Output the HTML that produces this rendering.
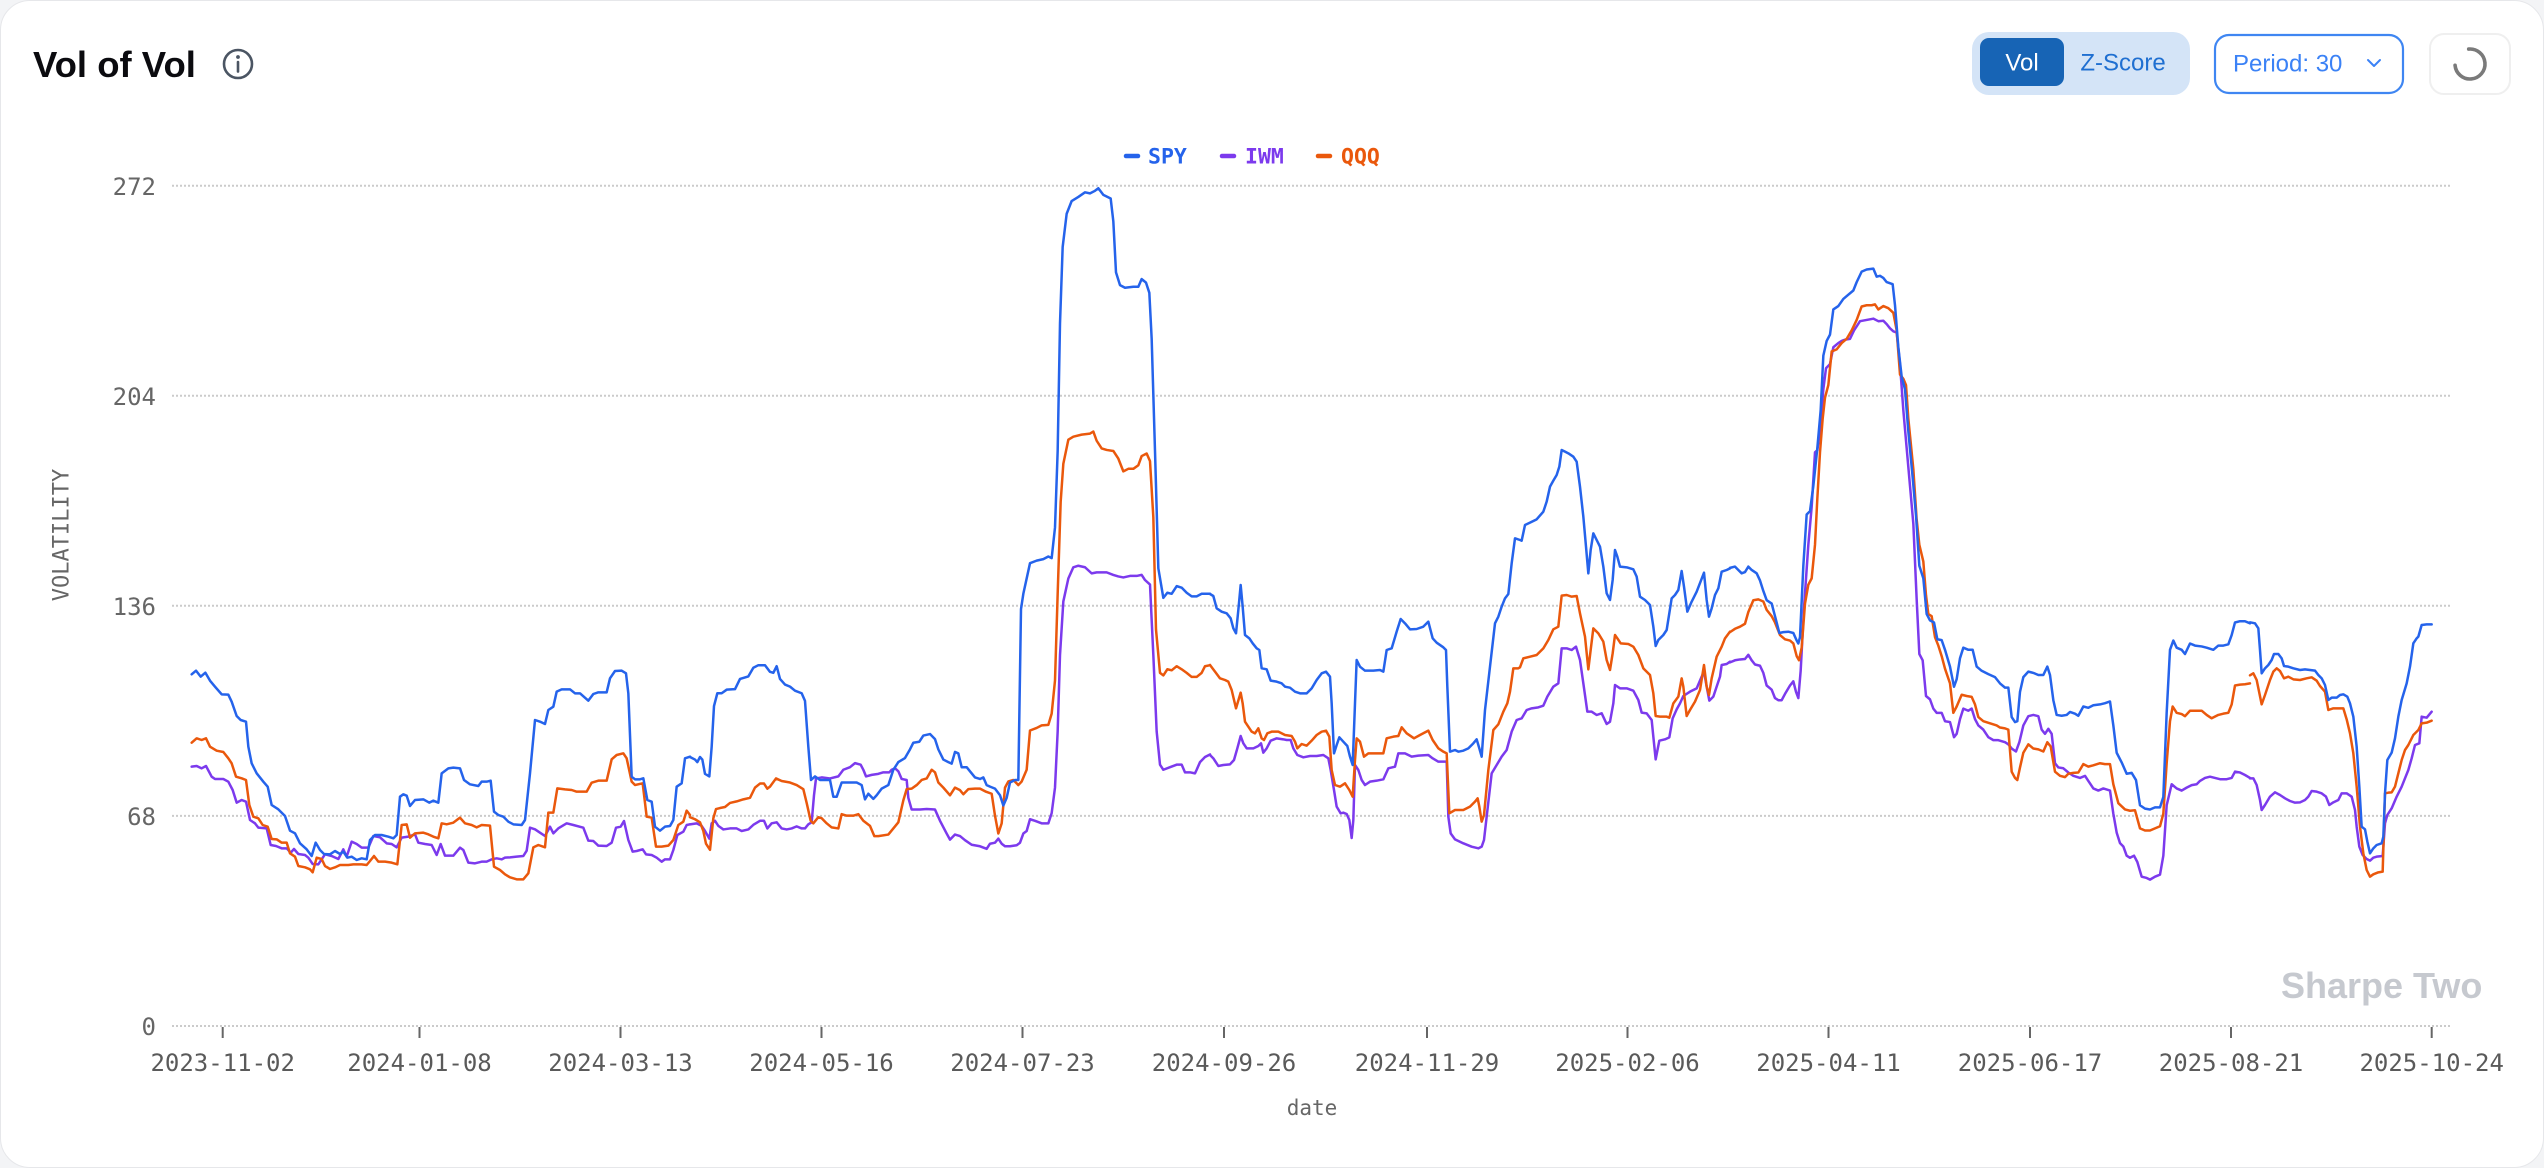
<!DOCTYPE html>
<html>
<head>
<meta charset="utf-8">
<style>
  html,body{margin:0;padding:0;}
  body{width:2544px;height:1168px;background:#f3f4f6;overflow:hidden;position:relative;}
  .card{position:absolute;left:0;top:0;width:2542px;height:1166px;background:#fff;border:1px solid #e6e7ea;border-radius:30px;}
  svg{position:absolute;left:0;top:0;}
  .mono{font-family:"DejaVu Sans Mono","Liberation Mono",monospace;}
  .sans{font-family:"Liberation Sans",Arial,sans-serif;}
</style>
</head>
<body>
<div class="card"></div>
<svg width="2544" height="1168" viewBox="0 0 2544 1168" xmlns="http://www.w3.org/2000/svg">
  <!-- Title -->
  <text x="33" y="77" class="sans" font-size="36.5" font-weight="700" fill="#0b0b0f">Vol of Vol</text>
  <circle cx="238" cy="64" r="14" fill="none" stroke="#4b5563" stroke-width="2.6"/>
  <circle cx="238" cy="57" r="1.9" fill="#4b5563"/>
  <line x1="238" y1="62" x2="238" y2="71.5" stroke="#4b5563" stroke-width="2.6" stroke-linecap="round"/>

  <!-- Toggle group -->
  <rect x="1972" y="32" width="218" height="63" rx="17" fill="#d4e4f7"/>
  <rect x="1980" y="38" width="84" height="48" rx="9" fill="#1764b5"/>
  <text x="2022" y="63" class="sans" font-size="24" fill="#ffffff" text-anchor="middle" dominant-baseline="central">Vol</text>
  <text x="2123" y="63" class="sans" font-size="24" fill="#1f6fd1" text-anchor="middle" dominant-baseline="central">Z-Score</text>

  <!-- Period dropdown -->
  <rect x="2215" y="35" width="188" height="58" rx="14" fill="#fff" stroke="#3f86f2" stroke-width="2.2"/>
  <text x="2233" y="64" class="sans" font-size="24" fill="#3b82f6" dominant-baseline="central">Period: 30</text>
  <polyline points="2368,60 2374,66 2380,60" fill="none" stroke="#3b82f6" stroke-width="2" stroke-linecap="round" stroke-linejoin="round"/>

  <!-- Refresh button -->
  <rect x="2430" y="34" width="80" height="60" rx="14" fill="#fff" stroke="#efefef" stroke-width="2"/>
  <path d="M2468.7,49.06 A15,15 0 1 1 2455.06,65.31" fill="none" stroke="#7a7a7a" stroke-width="3.6" stroke-linecap="round"/>

  <!-- Legend -->
  <line x1="1126" y1="156" x2="1138" y2="156" stroke="#2563eb" stroke-width="4.5" stroke-linecap="round"/>
  <text x="1148" y="157" class="mono" font-size="21.5" font-weight="700" fill="#2563eb" dominant-baseline="central">SPY</text>
  <line x1="1222" y1="156" x2="1234" y2="156" stroke="#7c3aed" stroke-width="4.5" stroke-linecap="round"/>
  <text x="1245" y="157" class="mono" font-size="21.5" font-weight="700" fill="#7c3aed" dominant-baseline="central">IWM</text>
  <line x1="1318" y1="156" x2="1330" y2="156" stroke="#ea580c" stroke-width="4.5" stroke-linecap="round"/>
  <text x="1341" y="157" class="mono" font-size="21.5" font-weight="700" fill="#ea580c" dominant-baseline="central">QQQ</text>

  <!-- Gridlines -->
  <g stroke="#cbcbcb" stroke-width="2" stroke-dasharray="2 2">
    <line x1="172" y1="185.7" x2="2450" y2="185.7"/>
    <line x1="172" y1="395.8" x2="2450" y2="395.8"/>
    <line x1="172" y1="605.8" x2="2450" y2="605.8"/>
    <line x1="172" y1="815.9" x2="2450" y2="815.9"/>
    <line x1="172" y1="1026" x2="2450" y2="1026"/>
  </g>

  <!-- Y labels -->
  <g class="mono" font-size="24" fill="#666" text-anchor="end" dominant-baseline="central">
    <text x="156" y="187">272</text>
    <text x="156" y="397">204</text>
    <text x="156" y="607">136</text>
    <text x="156" y="817">68</text>
    <text x="156" y="1027">0</text>
  </g>
  <text transform="translate(62,535) rotate(-90)" class="mono" font-size="22" fill="#666" text-anchor="middle" dominant-baseline="central">VOLATILITY</text>

  <!-- X ticks -->
  <g stroke="#666" stroke-width="2">
    <line x1="222.7" y1="1027" x2="222.7" y2="1038"/>
    <line x1="419.5" y1="1027" x2="419.5" y2="1038"/>
    <line x1="620.5" y1="1027" x2="620.5" y2="1038"/>
    <line x1="821.5" y1="1027" x2="821.5" y2="1038"/>
    <line x1="1022.5" y1="1027" x2="1022.5" y2="1038"/>
    <line x1="1224" y1="1027" x2="1224" y2="1038"/>
    <line x1="1427" y1="1027" x2="1427" y2="1038"/>
    <line x1="1627.5" y1="1027" x2="1627.5" y2="1038"/>
    <line x1="1828.5" y1="1027" x2="1828.5" y2="1038"/>
    <line x1="2030" y1="1027" x2="2030" y2="1038"/>
    <line x1="2231" y1="1027" x2="2231" y2="1038"/>
    <line x1="2431.7" y1="1027" x2="2431.7" y2="1038"/>
  </g>
  <g class="mono" font-size="24" fill="#5a5a5a" text-anchor="middle" dominant-baseline="central">
    <text x="222.7" y="1063">2023-11-02</text>
    <text x="419.5" y="1063">2024-01-08</text>
    <text x="620.5" y="1063">2024-03-13</text>
    <text x="821.5" y="1063">2024-05-16</text>
    <text x="1022.5" y="1063">2024-07-23</text>
    <text x="1224" y="1063">2024-09-26</text>
    <text x="1427" y="1063">2024-11-29</text>
    <text x="1627.5" y="1063">2025-02-06</text>
    <text x="1828.5" y="1063">2025-04-11</text>
    <text x="2030" y="1063">2025-06-17</text>
    <text x="2231" y="1063">2025-08-21</text>
    <text x="2431.7" y="1063">2025-10-24</text>
  </g>
  <text x="1312" y="1108" class="mono" font-size="21" fill="#666" text-anchor="middle" dominant-baseline="central">date</text>

  <!-- Watermark -->
  <text x="2281" y="998" class="sans" font-size="36" font-weight="700" fill="#c6c9cf">Sharpe Two</text>

  <!-- Series -->
  <g fill="none" stroke-width="2.5" stroke-linejoin="round" stroke-linecap="round">
    <!-- Segment 1: x 170-690 -->
    <g transform="translate(170,560) scale(0.333333)">
      <polyline vector-effect="non-scaling-stroke" stroke="#7c3aed" points="65,620 80,618 95,625 108,618 125,650 135,657 160,657 175,665 188,690 200,728 215,720 228,725 240,780 255,790 265,803 290,805 302,855 318,858 335,865 350,865 362,878 372,867 385,882 405,885 415,893 428,912 445,913 465,883 485,888 505,897 520,868 530,890 545,845 560,852 575,863 595,863 610,828 630,832 650,850 665,852 680,862 695,833 715,830 735,823 745,848 765,852 785,855 800,885 812,852 825,887 850,887 870,863 880,870 895,908 915,910 935,905 950,905 965,898 980,895 995,898 1005,893 1020,892 1040,890 1060,888 1070,872 1080,803 1095,808 1110,818 1125,828 1140,800 1150,820 1165,805 1190,790 1210,795 1240,803 1255,842 1270,843 1285,857 1310,858 1325,848 1338,803 1352,800 1362,783 1375,840 1388,875 1400,873 1418,868 1428,883 1445,885 1460,893 1475,905 1485,898 1500,898 1510,870 1522,825 1540,815 1550,795 1560,793"/>
      <polyline vector-effect="non-scaling-stroke" stroke="#ea580c" points="65,548 80,535 95,540 108,535 120,560 140,572 160,576 175,595 185,610 198,650 215,655 228,660 238,735 250,770 265,775 278,795 293,800 305,837 320,838 335,848 350,848 360,880 375,890 385,918 405,922 420,928 428,937 440,893 455,897 465,918 480,927 495,922 510,915 535,915 550,913 575,913 590,915 600,903 612,888 625,905 645,905 665,908 682,913 695,795 710,793 720,833 735,820 760,818 775,823 790,830 805,835 815,790 830,793 850,788 870,773 885,790 905,795 920,802 935,795 960,797 972,920 990,930 1005,943 1020,952 1040,958 1060,958 1075,940 1090,862 1105,855 1125,862 1135,758 1150,758 1162,685 1185,688 1205,690 1220,695 1250,695 1265,668 1285,662 1310,662 1325,598 1340,585 1360,580 1370,595 1385,665 1395,675 1418,670 1430,770 1445,773 1458,860 1475,860 1495,857 1510,840 1525,795 1540,785 1550,752 1560,765"/>
      <polyline vector-effect="non-scaling-stroke" stroke="#2563eb" points="65,343 78,332 92,350 106,338 120,362 135,380 155,403 175,404 185,425 200,468 212,480 228,485 235,560 245,610 260,640 280,665 293,680 305,735 325,748 345,768 360,812 375,820 390,850 410,868 425,888 437,848 450,870 462,882 480,883 495,873 510,882 520,875 532,893 545,890 560,900 575,895 590,898 600,840 615,825 635,825 655,830 670,835 680,825 690,710 700,703 710,707 720,738 735,720 760,718 778,728 790,722 805,728 815,640 835,625 850,623 870,625 882,660 900,673 925,678 935,665 950,665 962,662 972,755 985,765 1000,770 1015,785 1030,793 1055,795 1065,780 1080,640 1095,480 1110,485 1125,492 1135,450 1150,440 1160,395 1175,388 1200,388 1215,400 1230,400 1255,422 1270,402 1285,397 1310,397 1320,355 1335,333 1355,332 1368,340 1375,400 1385,650 1395,658 1410,658 1420,655 1432,720 1445,725 1455,800 1470,812 1485,800 1500,798 1510,780 1520,680 1535,670 1545,595 1560,590"/>
    </g>
    <!-- Segment 2: x 690-1210 -->
    <g transform="matrix(0.333333 0 0 0.5101 690 170.4)">
      <polyline vector-effect="non-scaling-stroke" stroke="#7c3aed" points="0,1282 20,1280 35,1285 45,1295 58,1310 65,1280 75,1275 85,1285 100,1292 120,1290 140,1290 155,1295 175,1292 190,1283 210,1275 222,1275 232,1290 245,1280 260,1278 275,1290 290,1292 305,1290 320,1286 335,1290 345,1290 355,1282 365,1278 372,1225 378,1192 395,1190 420,1192 445,1188 460,1175 480,1170 495,1162 512,1165 520,1175 528,1188 545,1185 565,1183 580,1180 598,1180 605,1175 615,1172 625,1178 635,1193 650,1195 655,1230 665,1253 690,1253 710,1252 735,1253 750,1275 770,1300 780,1312 795,1302 810,1305 825,1313 845,1322 870,1325 890,1330 900,1320 915,1318 925,1310 935,1320 945,1325 960,1325 980,1323 990,1318 1000,1300 1010,1295 1020,1272 1035,1275 1055,1280 1075,1280 1085,1260 1095,1210 1103,1100 1110,950 1120,845 1135,800 1150,778 1165,775 1185,778 1205,790 1220,788 1250,788 1270,793 1285,796 1300,798 1320,795 1340,795 1355,793 1365,803 1380,812 1390,950 1400,1100 1410,1165 1420,1175 1440,1170 1460,1165 1475,1165 1485,1180 1500,1180 1515,1182 1520,1175 1530,1160 1545,1150 1560,1145"/>
      <polyline vector-effect="non-scaling-stroke" stroke="#ea580c" points="0,1268 15,1272 30,1278 40,1295 48,1320 60,1332 70,1270 78,1252 90,1250 105,1248 120,1240 140,1237 160,1233 180,1230 195,1210 210,1202 222,1202 232,1212 240,1208 258,1192 275,1197 300,1200 320,1205 340,1213 350,1240 362,1275 370,1280 385,1268 395,1270 410,1280 425,1288 445,1290 455,1262 470,1265 490,1265 505,1262 520,1275 540,1285 553,1305 565,1305 595,1302 610,1290 625,1278 640,1235 650,1213 665,1212 680,1205 695,1195 710,1192 725,1175 735,1180 745,1200 760,1210 780,1225 795,1210 810,1215 820,1223 835,1213 855,1212 870,1212 888,1218 905,1222 915,1265 925,1300 935,1280 945,1210 955,1198 970,1195 985,1205 995,1198 1010,1175 1020,1098 1040,1093 1055,1088 1075,1087 1085,1065 1095,1000 1103,830 1112,650 1120,575 1135,528 1150,522 1175,518 1200,516 1210,512 1220,530 1235,545 1250,548 1270,550 1285,565 1300,590 1315,585 1330,585 1345,578 1355,560 1370,555 1380,570 1390,680 1398,900 1410,985 1420,990 1432,978 1445,980 1460,972 1475,978 1490,985 1505,993 1520,993 1535,985 1545,972 1560,970"/>
      <polyline vector-effect="non-scaling-stroke" stroke="#2563eb" points="0,1150 15,1155 22,1160 30,1150 37,1155 45,1183 58,1188 65,1130 72,1050 82,1025 95,1025 110,1018 135,1017 150,997 175,992 190,975 205,970 225,970 240,983 250,985 260,972 270,997 285,1008 300,1012 315,1020 335,1025 345,1040 355,1130 363,1195 375,1188 390,1195 420,1195 430,1228 440,1228 455,1200 480,1200 500,1200 515,1205 525,1233 535,1222 550,1232 560,1225 575,1212 595,1205 610,1175 625,1160 645,1152 660,1135 670,1122 688,1120 700,1108 720,1105 735,1115 745,1135 760,1155 775,1160 785,1163 795,1140 805,1143 815,1170 830,1170 840,1178 855,1190 870,1193 880,1190 890,1205 900,1208 915,1212 930,1225 940,1245 950,1230 960,1200 975,1195 985,1195 993,860 1000,830 1020,770 1040,765 1060,762 1075,757 1085,760 1095,700 1103,550 1110,300 1118,150 1130,85 1145,60 1165,52 1185,43 1200,45 1215,40 1225,35 1240,48 1262,55 1270,100 1278,200 1290,225 1305,230 1330,228 1345,228 1355,213 1368,220 1378,240 1385,330 1395,550 1405,780 1420,838 1432,828 1445,830 1460,815 1475,818 1490,828 1505,835 1520,835 1535,830 1560,830"/>
    </g>
    <!-- Segment 3: x 1210-1730 -->
    <g transform="translate(1210,420) scale(0.333333)">
      <polyline vector-effect="non-scaling-stroke" stroke="#7c3aed" points="0,1005 10,1015 25,1038 40,1035 60,1033 72,1020 82,985 92,948 100,970 110,985 130,985 145,978 153,970 160,998 170,985 182,962 200,955 220,958 230,960 242,960 250,985 262,1005 280,1012 300,1008 320,1008 340,1005 355,1015 362,1050 372,1110 380,1160 392,1180 400,1178 410,1182 418,1200 425,1254 430,1200 435,1035 445,1050 455,1080 465,1095 480,1085 500,1082 520,1078 535,1045 555,1040 565,1000 585,1000 605,1010 625,1007 655,1005 668,1015 685,1025 710,1025 715,1190 722,1240 735,1258 760,1270 785,1280 805,1285 815,1280 822,1260 830,1190 845,1060 860,1035 875,1010 890,990 905,935 920,900 935,895 950,870 965,865 985,862 1000,857 1012,830 1030,800 1045,790 1055,685 1070,685 1085,690 1098,680 1110,720 1120,790 1132,875 1145,875 1160,885 1175,880 1190,912 1200,905 1210,850 1215,795 1230,805 1250,805 1270,812 1285,840 1295,878 1310,880 1325,900 1330,950 1337,1018 1348,962 1365,958 1378,952 1388,895 1400,868 1410,850 1420,828 1440,815 1460,805 1475,770 1482,755 1490,800 1498,842 1510,830 1520,800 1530,770 1535,735 1550,732 1560,725"/>
      <polyline vector-effect="non-scaling-stroke" stroke="#ea580c" points="0,735 15,755 30,775 45,780 55,785 65,810 78,865 92,818 98,850 105,905 115,920 125,935 135,940 145,925 155,955 162,960 172,940 185,935 205,935 225,945 245,948 255,965 262,985 275,972 290,977 305,962 320,945 335,935 348,932 358,950 365,1050 375,1095 390,1100 405,1090 418,1110 428,1130 435,1020 440,955 450,965 462,1010 475,1000 500,1000 520,1000 530,955 550,950 565,948 575,922 590,940 612,955 630,945 655,932 668,960 685,985 700,995 710,1000 718,1180 735,1170 760,1170 780,1160 795,1145 803,1135 808,1160 815,1205 822,1185 835,1050 850,930 865,913 880,875 892,850 900,815 910,745 925,745 930,742 940,715 960,710 980,705 1000,685 1015,660 1030,628 1045,620 1055,527 1070,525 1085,530 1100,528 1110,580 1125,650 1135,748 1142,690 1150,625 1165,640 1180,665 1190,720 1200,750 1208,700 1215,645 1222,655 1232,670 1255,672 1270,680 1285,705 1300,745 1320,765 1330,820 1337,888 1350,890 1370,890 1378,893 1390,850 1405,830 1415,775 1420,800 1430,888 1440,870 1455,845 1470,810 1482,735 1490,800 1497,825 1505,775 1520,710 1535,680 1545,655 1560,635"/>
      <polyline vector-effect="non-scaling-stroke" stroke="#2563eb" points="0,522 10,528 20,565 35,575 50,580 62,595 70,625 78,640 85,570 92,495 98,560 105,645 118,655 128,670 140,685 148,690 155,745 170,748 182,782 200,785 215,790 225,800 240,803 255,815 270,820 290,820 305,805 320,780 335,760 348,755 360,770 365,850 372,1000 380,975 388,952 400,965 412,978 420,1010 428,1035 435,850 440,720 450,740 465,752 490,752 510,750 520,755 530,690 545,685 560,635 572,597 585,610 600,628 620,627 640,620 655,605 668,655 680,668 700,682 708,690 712,800 720,995 735,990 745,995 760,992 775,985 790,970 800,958 808,985 815,1010 825,870 840,740 855,610 865,590 875,560 885,535 895,522 905,430 915,355 930,360 935,362 945,315 960,308 980,298 1000,275 1010,245 1020,200 1030,182 1040,165 1048,140 1055,90 1065,95 1075,100 1090,110 1100,125 1110,200 1120,290 1128,380 1135,460 1142,390 1150,340 1160,360 1170,380 1180,440 1190,520 1200,540 1208,480 1215,390 1222,410 1230,440 1250,442 1270,448 1280,470 1290,530 1305,540 1320,555 1330,620 1337,678 1345,660 1360,645 1370,630 1385,535 1395,525 1405,510 1415,453 1422,500 1432,575 1445,545 1460,515 1482,458 1490,540 1497,590 1505,565 1515,525 1525,505 1535,455 1550,450 1560,445"/>
    </g>
    <!-- Segment 4: x 1730-2250 -->
    <g transform="matrix(0.333333 0 0 0.4202 1730 250.6)">
      <polyline vector-effect="non-scaling-stroke" stroke="#7c3aed" points="0,980 15,975 30,973 45,972 55,962 65,975 75,985 90,988 100,1005 110,1035 125,1045 135,1065 145,1070 155,1070 165,1055 180,1035 190,1025 198,1050 205,1065 212,1000 222,850 235,700 245,610 255,480 262,475 270,430 280,330 288,280 300,270 310,230 325,220 335,215 345,212 360,210 372,190 390,168 410,165 430,162 445,168 460,167 470,175 480,185 490,192 500,195 510,270 520,380 530,470 540,560 550,650 560,830 568,960 578,975 588,1060 600,1068 610,1090 620,1100 635,1100 645,1120 660,1122 672,1158 680,1150 690,1115 700,1090 715,1095 725,1090 735,1115 745,1130 760,1140 775,1158 790,1165 805,1165 825,1170 835,1175 845,1185 858,1192 868,1170 880,1130 895,1108 910,1105 925,1108 935,1140 945,1150 955,1138 965,1150 975,1220 985,1230 1000,1232 1015,1242 1030,1250 1050,1255 1065,1250 1075,1262 1090,1280 1105,1285 1120,1280 1140,1285 1150,1340 1160,1385 1170,1410 1180,1418 1190,1440 1200,1445 1212,1440 1222,1455 1235,1490 1250,1493 1260,1497 1275,1490 1290,1485 1300,1440 1310,1320 1325,1270 1340,1280 1355,1285 1370,1278 1385,1272 1400,1270 1410,1262 1425,1255 1440,1252 1455,1255 1470,1258 1490,1258 1505,1255 1515,1240 1530,1242 1545,1248 1560,1255"/>
      <polyline vector-effect="non-scaling-stroke" stroke="#ea580c" points="0,908 15,900 30,895 45,888 55,860 70,832 85,830 100,835 110,855 125,870 135,885 150,915 165,925 180,928 190,935 200,965 207,975 215,945 225,840 235,795 245,780 255,700 262,590 270,480 278,400 285,350 295,320 305,240 320,235 335,220 350,210 365,190 380,165 395,133 410,130 425,130 435,128 445,140 460,132 475,137 490,148 500,190 510,295 520,305 528,320 535,400 550,520 560,640 568,700 580,740 588,820 595,865 605,870 615,920 625,940 635,965 645,995 660,1030 670,1100 680,1085 695,1057 710,1060 725,1062 735,1080 745,1110 760,1120 780,1125 800,1130 810,1135 825,1137 835,1140 845,1240 855,1255 862,1260 870,1230 880,1195 895,1175 910,1185 925,1187 940,1192 952,1170 962,1180 975,1240 990,1250 1005,1253 1015,1245 1030,1243 1045,1242 1060,1222 1075,1228 1090,1225 1110,1220 1125,1222 1140,1222 1150,1270 1165,1315 1185,1330 1200,1333 1215,1332 1230,1375 1245,1380 1260,1380 1275,1375 1290,1370 1300,1340 1310,1220 1320,1120 1328,1085 1340,1100 1355,1103 1365,1108 1380,1095 1395,1095 1415,1095 1430,1105 1445,1113 1465,1105 1480,1102 1495,1100 1505,1080 1515,1035 1530,1033 1545,1032 1560,1030"/>
      <polyline vector-effect="non-scaling-stroke" stroke="#2563eb" points="0,755 15,752 25,760 35,768 45,765 55,752 65,760 80,768 90,785 100,810 110,832 125,840 135,870 148,910 160,908 175,907 190,910 200,928 205,935 210,920 220,750 230,628 240,620 250,560 262,470 272,380 280,250 290,215 300,200 310,140 325,132 340,115 355,105 370,95 380,75 395,50 410,45 430,43 440,62 450,60 460,65 470,75 488,80 495,130 505,230 515,300 525,330 535,430 548,540 558,630 568,750 580,780 590,865 600,880 612,885 622,925 635,927 645,950 660,990 672,1038 680,1020 690,970 700,945 715,950 728,950 740,990 755,1000 775,1008 795,1015 810,1030 825,1040 835,1040 845,1110 855,1122 862,1120 870,1050 880,1015 895,1002 910,1005 925,1010 940,1010 952,990 960,1010 970,1070 980,1105 995,1107 1010,1105 1020,1098 1035,1102 1045,1107 1060,1085 1075,1088 1090,1082 1110,1080 1125,1077 1140,1073 1150,1130 1160,1195 1175,1218 1190,1245 1205,1243 1218,1260 1230,1320 1245,1328 1260,1330 1275,1325 1290,1325 1300,1300 1310,1100 1320,950 1330,928 1340,945 1355,950 1365,960 1380,935 1395,940 1415,942 1430,945 1450,950 1465,940 1480,940 1495,937 1505,915 1515,885 1530,882 1545,882 1560,887"/>
    </g>
    <!-- Segment 5: x 2250-2432 -->
    <g transform="translate(2200,560) scale(0.333333)">
      <polyline vector-effect="non-scaling-stroke" stroke="#7c3aed" points="150,655 160,655 170,675 180,720 185,750 195,735 210,710 225,697 240,705 255,715 270,723 285,728 300,727 315,720 325,710 335,693 350,695 365,700 378,710 388,735 400,727 415,720 425,700 440,700 455,710 465,750 470,800 478,860 488,885 500,897 510,902 520,893 530,890 548,888 555,790 562,765 575,745 590,710 605,680 615,655 625,630 635,595 645,555 658,550 665,470 680,473 695,455"/>
      <polyline vector-effect="non-scaling-stroke" stroke="#ea580c" points="150,346 160,340 170,360 185,433 195,405 210,360 220,335 230,325 240,333 252,355 265,350 280,358 300,360 320,355 335,352 350,362 360,378 375,395 385,450 400,445 420,445 430,445 440,478 450,520 460,580 470,680 480,800 490,880 500,930 510,950 520,943 535,937 548,935 555,700 565,698 575,697 585,680 595,640 605,600 615,570 625,555 640,525 655,510 665,490 680,488 695,482"/>
      <polyline vector-effect="non-scaling-stroke" stroke="#2563eb" points="150,187 165,190 175,205 180,270 185,340 195,325 205,315 215,300 222,282 235,282 245,295 252,318 265,320 280,325 300,330 315,328 330,330 345,332 355,345 365,355 375,375 385,420 395,413 410,413 420,405 430,403 442,410 450,430 460,470 470,560 478,680 485,800 495,808 502,845 510,880 520,865 530,855 545,850 550,830 555,700 562,600 575,578 585,535 595,470 605,420 620,370 630,320 640,250 650,235 655,230 665,195 680,193 695,193"/>
    </g>
  </g>
</svg>
</body>
</html>
